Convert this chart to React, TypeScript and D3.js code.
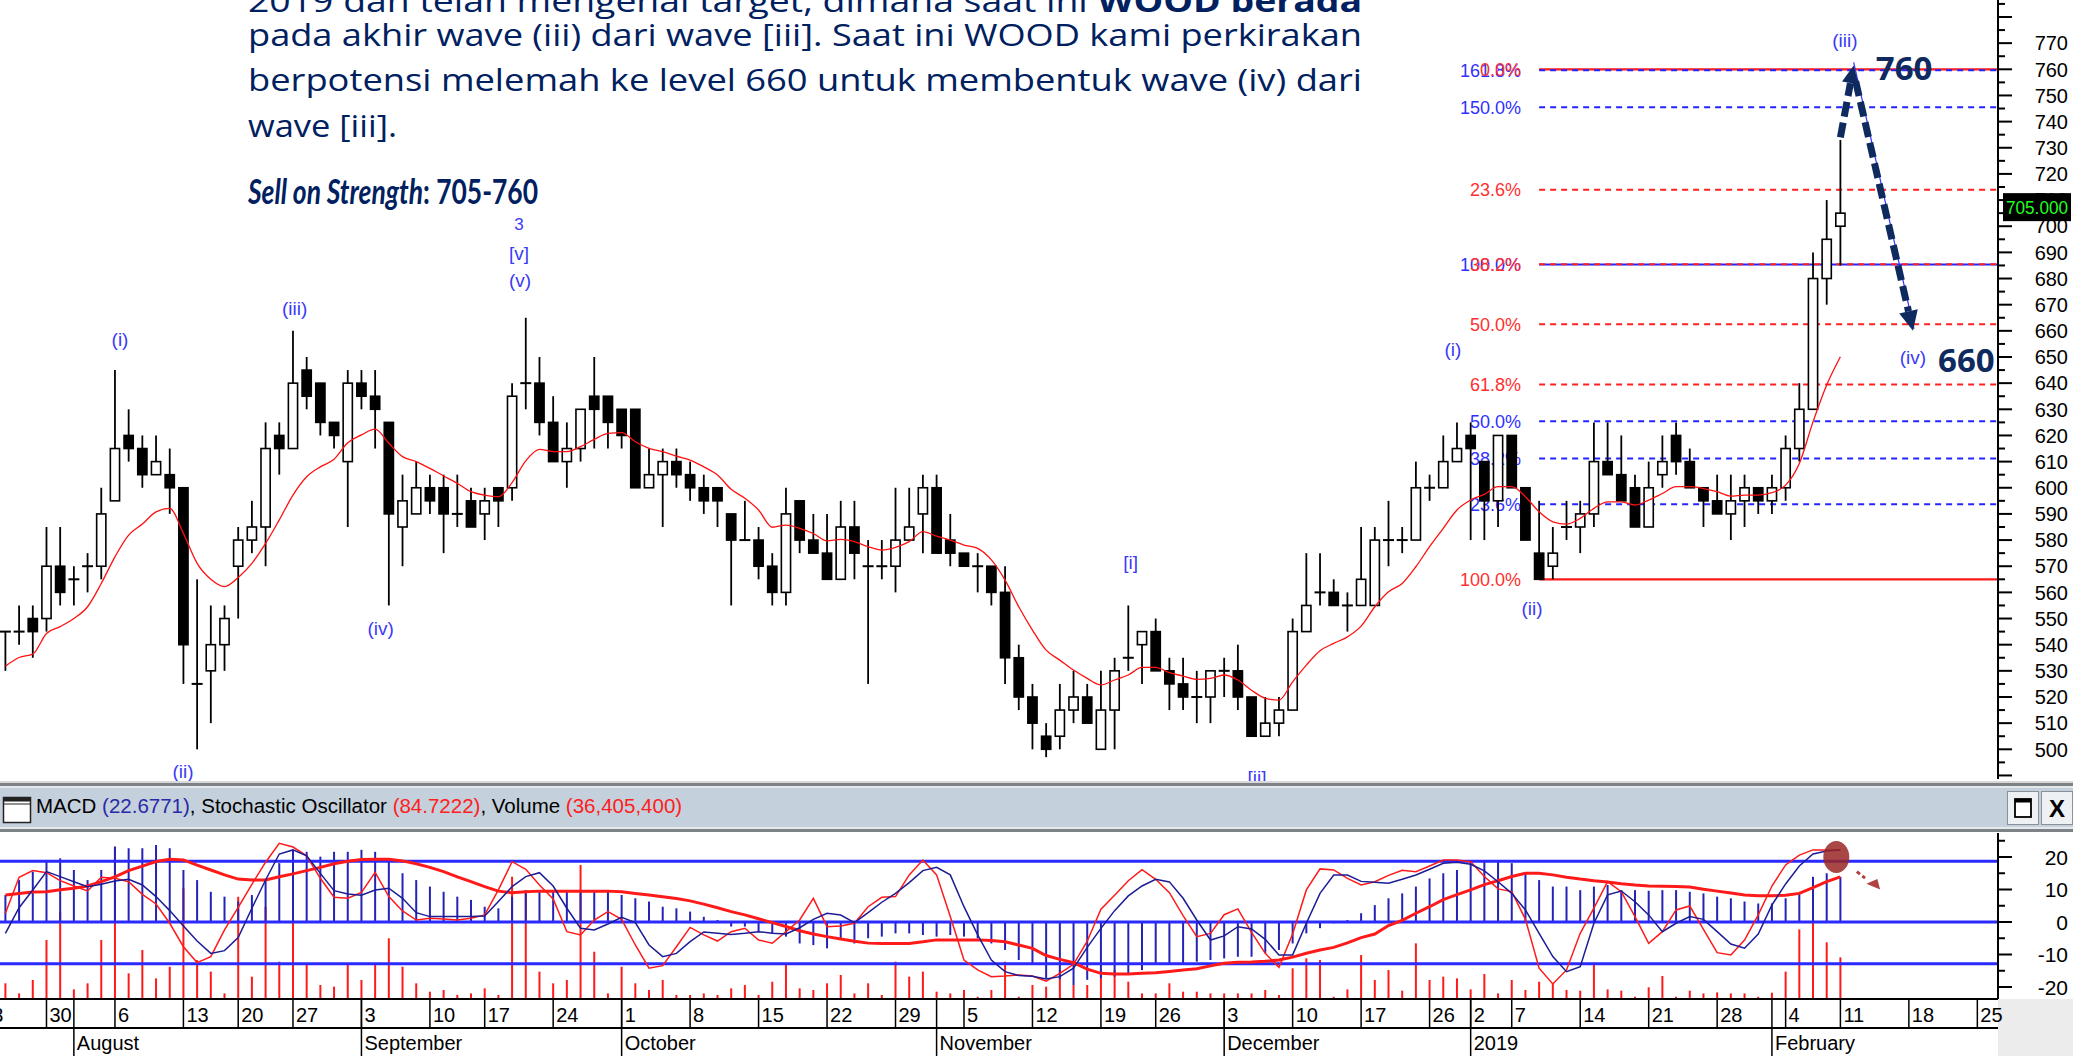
import React from "react";
import * as d3 from "d3";

const W = 2073;
const H = 1056;

// ---------- price data (candles, index = trading day) ----------
const opens = [545,545,550,550,570,565,570,570,595,620,
615,605,605,600,525,530,540,570,580,585,
620,615,645,640,625,610,640,635,625,585,
590,600,600,590,595,590,600,600,640,640,
625,610,615,635,635,630,630,600,605,610,
605,600,600,590,580,580,570,560,595,580,
575,565,585,570,570,570,580,590,600,580,
575,570,570,560,535,520,505,505,515,520,
500,515,535,540,545,530,525,520,520,530,
530,520,505,510,515,545,560,560,555,555,
555,580,580,580,600,600,610,620,610,595,
620,600,575,570,585,585,590,610,605,600,
585,605,620,610,600,595,590,595,600,595,
600,615,630,680,700];
const highs = [545,555,555,585,585,570,575,600,645,630,
620,620,615,600,565,555,555,585,595,625,
625,660,650,640,625,645,645,645,625,605,
610,605,605,605,600,600,600,640,665,650,
635,625,630,650,635,630,630,615,615,615,
610,605,600,590,595,585,575,600,595,590,
590,595,595,580,580,600,600,605,605,590,
575,575,570,570,540,525,510,525,530,525,
530,535,555,545,550,535,535,530,530,535,
540,520,520,520,550,575,575,565,560,585,
585,595,585,610,605,620,625,625,610,620,
620,600,595,585,595,595,625,625,620,605,
610,620,625,615,600,605,605,605,600,605,
620,640,690,710,733];
const lows = [530,540,535,545,555,555,560,565,595,610,
600,605,590,525,500,510,530,550,575,570,
605,615,630,620,615,585,630,615,555,570,
590,590,575,585,585,580,585,595,630,620,
610,600,610,615,615,615,600,600,585,600,
595,590,585,555,580,565,555,555,575,575,
565,565,565,525,565,560,580,575,575,570,
570,560,555,525,515,500,497,500,510,510,
500,500,530,525,530,515,515,510,510,520,
515,505,505,505,515,545,555,555,545,555,
555,570,575,580,595,600,610,580,580,585,
600,580,565,565,580,575,585,605,595,585,
585,600,605,600,585,590,580,585,590,590,
595,610,630,670,685];
const closes = [545,545,545,570,560,565,570,590,615,615,
605,610,600,540,525,540,550,580,585,615,
615,640,635,625,620,640,635,630,590,595,
600,595,590,590,585,595,595,635,640,625,
610,615,630,630,625,620,600,605,610,605,
600,595,595,580,580,570,560,590,580,575,
565,585,575,570,570,580,585,600,575,575,
570,570,560,535,520,510,500,515,520,510,
515,530,535,545,530,525,520,520,530,530,
520,505,510,515,545,555,560,555,555,565,
580,580,580,600,600,610,615,615,595,620,
600,580,565,575,585,590,610,605,595,585,
600,610,610,600,595,590,595,600,595,600,
615,630,680,695,705];
const movingAvg = [531.8,535.1,536.4,544.3,546.9,550,554.5,563.4,573.6,581.9,
586.1,590.8,592.1,582.5,571.1,565,562.2,565.7,571.1,578.7,
587.7,597.2,604.2,608,610.9,617.2,620.2,622.4,617,611.9,
610,607.4,604.5,601.7,598.5,597.2,596.6,602,610.3,614.7,
613.8,613.8,615.7,618.5,620.8,621.1,617.6,615.1,613.8,612.1,
610.6,608,604.9,599.4,596,591.5,584.9,585.7,584.5,582.5,
579.7,580.3,579.4,577.5,576.2,577.2,579.4,583.2,581.5,580,
578.1,576.8,572.4,564.7,554.5,545.6,537.9,534.1,530.3,527.1,
524.6,526.5,528.4,531.3,531.3,529.3,528,526.7,527.1,528.4,
526.5,522.6,519.5,518.8,525.8,532.2,537.7,540.5,543,547.1,
554.5,560.2,563.4,569.8,577.5,584.5,591.5,595.3,597.5,600.4,
600.4,596.6,590.8,587,586.1,588.3,592.1,594.6,594.6,593.4,
595.3,597.8,600.4,600.4,599.7,598.5,596.8,597.2,597.2,598.1,
601,609.3,625.2,639.3,650.1];

// ---------- indicator data ----------
const macdBars = [8.3,12.9,15.5,19.1,19.6,16,12.9,16,23.2,22.7,
22.7,23.7,22.7,16,12.9,9.3,7.8,6.3,8.3,12.9,
18.1,22.2,21.6,20.1,21.6,21.6,22.2,21.6,19.1,15,
12.9,10.9,9.3,7.8,6.8,4.7,4.2,7.8,9.8,9.3,
9.8,9.3,9.3,9.8,9.3,8.3,7.3,6.3,4.7,4.2,
3.2,1.6,0.6,-1.4,-1.4,-3,-3.5,-4.5,-6.6,-7.1,
-8.1,-5.5,-6.6,-5,-4.5,-3.5,-3.5,-4,-4.5,-4,
-4.5,-5,-6.6,-8.6,-11.7,-13.2,-17.3,-17.6,-19.4,-17.8,
-17.3,-16.8,-16.3,-14.8,-13.2,-13.2,-12.7,-12.2,-11.7,-11.2,
-10.7,-10.7,-9.6,-8.6,-6.6,-3.5,-1.9,-0.4,0.6,2.7,
5.2,7.3,8.8,10.9,13.4,15,16,18.6,18.6,18.6,
18.1,15,12.9,10.9,10.9,9.8,10.9,11.4,9.8,9.8,
9.6,9.8,9.8,9.3,8.8,7.8,7.3,6.3,5.7,5.7,
7.3,8.8,13.9,15,13.9];
const macdSignal = [8.3,8.8,9.2,9.3,9.9,10.4,11.1,12.4,13.9,15.8,
17.2,18.6,19.3,19.1,17.5,16,14.5,13.2,12.9,12.9,
13.9,14.8,15.8,16.8,17.9,18.7,19.2,19.3,19.3,18.8,
17.9,16.8,15.5,13.9,12.4,10.9,9.5,9,9.3,9.5,
9.5,9.5,9.5,9.5,9.5,9.3,8.8,8.3,7.8,7.2,
6.5,5.5,4.4,3.2,2.2,1,-0.2,-1.4,-2.7,-3.7,
-4.5,-5.2,-5.9,-6.5,-6.6,-6.6,-6.6,-6.1,-5.5,-5.5,
-5.5,-5.5,-5.7,-6.1,-7.1,-8.1,-10.3,-11.5,-12.5,-14.5,
-15.8,-16,-16,-15.8,-15.6,-15.2,-14.8,-14.4,-13.5,-12.7,
-12.4,-12.3,-12.1,-11.7,-10.8,-9.6,-8.6,-7.8,-6.4,-4.8,
-3.7,-1.1,0.5,2.7,4.7,6.9,8.4,9.9,11.5,12.7,
14,15,15,14.5,13.8,13.2,12.7,12.3,11.8,11.4,
11.1,11,10.9,10.8,10.1,9.5,8.9,8.3,8.1,8.1,
8.2,8.8,10.6,12.4,13.9];
const stochK = [37.8,52.8,63.2,73.9,71,68,65.1,66.5,68.4,69.4,
66.1,59.3,51.1,42.1,33.3,26.1,27.7,35.3,52.5,69,
84.2,86.6,83.1,72.9,62.8,60.8,60.1,63.2,64.2,58.3,
49.9,47.6,47.6,47.6,47.6,48,56.4,65.1,71,73.3,
65.5,52.5,40.8,39.8,43.3,47.2,44.1,31,24.2,26.1,
33,38.6,37.8,37.1,37.8,38.8,37.8,37.4,41.1,46,
49.5,48.5,44.1,49.9,56,61.2,67.5,74.5,76.4,72,
53.4,36.9,22.2,15.4,13.1,12.7,11.1,12.5,17.4,29.6,
40.7,51.1,59.7,65.5,69.4,67.9,58.3,45.6,33.9,36.3,
41.7,40.4,34.3,25.2,25.2,43.7,61.2,71.9,71.9,68.2,
67.7,67.1,69.4,71.9,75.3,78.8,79.4,78.2,74.3,68,
61.2,51.5,37.8,24.2,15.4,18.3,43.7,60.3,62.6,56.3,
48.6,38.8,43.7,47.6,46,38.8,31.6,29.1,37.4,54.4,
66.7,77.2,84.2,86,86.6];
const stochD = [49.5,70.6,74.5,73.3,68.6,65.5,62.6,70.6,70,68,
60.6,55,43.7,30,20.7,24.2,39.8,53,66.5,79.4,
90.5,88.3,83.1,70,58.9,58.3,61.8,73.5,59.3,50.9,
45.6,46.6,46.2,45.6,46.6,48.6,63.2,79.7,75.3,66.1,
57.9,38.8,36.9,45.6,50.5,46,31,17.4,18.9,30,
41.3,36.9,33.3,38.8,40.8,33.9,32,38.8,45.6,58.3,
41.7,42.1,43.7,53.4,58.9,59.3,72,80.7,72,47.6,
22.2,16.4,12.5,12.9,13.5,12.9,9.8,14.4,19.7,33.2,
51.9,60.1,68.6,75.1,69.4,61.6,48.2,35.9,37.8,48.7,
52.1,38.4,26.1,17.9,37.4,63.2,75.5,74.9,70,66.1,
68,71.7,74.7,73.9,77.2,80.7,80.7,79.7,71,63.8,
62.2,46,17.4,8.2,16.4,37.8,52.5,68,62.2,47.6,
32,38.8,51.5,53.8,40.2,26.5,25.2,33.9,48.6,65.5,
77.8,83.6,86.6,86.6,86.6];
const volumeM = [13.7,4.9,16.6,51.5,76.2,8.4,13.7,51.5,133,22.4,
42.8,18,28.2,96.6,34,23.9,4.9,89.3,19.5,80.6,
32.6,80.6,29.7,12.2,10.8,29.7,16.6,29.7,53,28.2,
13.7,6.4,7.9,3.5,4.9,9.3,3.5,106.8,92.2,23.9,
13.7,16.6,117,41.3,4.9,28.2,13.7,7.9,16.6,3.5,
3.5,4.9,3.5,9.3,12.2,3.5,15.1,29.7,9.3,7.9,
13.7,21,4.9,13.7,3.5,32.6,19.5,23.9,6.4,4.9,
7.9,2,7.9,32.6,2,12.2,10.8,25.3,12.2,12.2,
25.3,25.3,15.1,4.9,4.9,13.7,6.4,6.4,4.9,4.9,
4.9,4.9,7.9,3.5,26.8,35.5,34,2,8.4,38.4,
16.6,25.3,7.3,48.6,16.6,19.5,18,8.4,21.8,4.9,
16.6,7.9,15.1,13.7,7.9,7.3,31.7,8.4,7.3,2,
10.2,20.1,2,7.3,4.9,5.8,4.9,4.9,2,5.5,
23.9,60.8,98,49.5,36.4];

// ---------- axis labels ----------
const priceTickValues = d3.range(490, 790, 5);
const priceLabelValues = d3.range(500, 771, 10);
const macdTickValues = d3.range(-25, 26, 5);
const macdLabelValues = [20, 10, 0, -10, -20];
const weekTicks = [
  { i: -2, l: "23" }, { i: 3, l: "30" }, { i: 8, l: "6" }, { i: 13, l: "13" }, { i: 17, l: "20" },
  { i: 21, l: "27" }, { i: 26, l: "3" }, { i: 31, l: "10" }, { i: 35, l: "17" }, { i: 40, l: "24" },
  { i: 45, l: "1" }, { i: 50, l: "8" }, { i: 55, l: "15" }, { i: 60, l: "22" }, { i: 65, l: "29" },
  { i: 70, l: "5" }, { i: 75, l: "12" }, { i: 80, l: "19" }, { i: 84, l: "26" }, { i: 89, l: "3" },
  { i: 94, l: "10" }, { i: 99, l: "17" }, { i: 104, l: "26" }, { i: 107, l: "2" }, { i: 110, l: "7" },
  { i: 115, l: "14" }, { i: 120, l: "21" }, { i: 125, l: "28" }, { i: 130, l: "4" }, { i: 134, l: "11" },
  { i: 139, l: "18" }, { i: 144, l: "25" },
];
const monthTicks = [
  { i: 5, l: "August" }, { i: 26, l: "September" }, { i: 45, l: "October" }, { i: 68, l: "November" },
  { i: 89, l: "December" }, { i: 107, l: "2019" }, { i: 129, l: "February" },
];

// Fibonacci levels
const fibRed = [
  { p: 760, l: "0.0%", solid: true }, { p: 713.9, l: "23.6%", solid: false },
  { p: 685.5, l: "38.2%", solid: false }, { p: 662.5, l: "50.0%", solid: false },
  { p: 639.5, l: "61.8%", solid: false }, { p: 565, l: "100.0%", solid: true },
];
const fibBlue = [
  { p: 759.6, l: "161.8%", solid: false }, { p: 745.5, l: "150.0%", solid: false },
  { p: 685.4, l: "100.0%", solid: true }, { p: 625.4, l: "50.0%", solid: false },
  { p: 611.2, l: "38.2%", solid: false }, { p: 593.7, l: "23.6%", solid: false },
];
const fibStartIdx = 112;

// wave annotations (index, price)
const waveLabels = [
  { t: "(i)", i: 8.37, p: 656.9 }, { t: "(ii)", i: 12.97, p: 491.7 },
  { t: "(iii)", i: 21.12, p: 668.5 }, { t: "(iv)", i: 27.41, p: 546.3 },
  { t: "[v]", i: 37.5, p: 689.7 }, { t: "(v)", i: 37.58, p: 679.4 },
  { t: "[i]", i: 82.17, p: 571.7 }, { t: "[ii]", i: 91.4, p: 489.4 },
  { t: "(i)", i: 105.71, p: 653.0 }, { t: "(ii)", i: 111.48, p: 554.0 },
  { t: "(iii)", i: 134.33, p: 771.2 }, { t: "(iv)", i: 139.3, p: 650.0 },
];

// ---------- scales ----------
const xS = d3.scaleLinear().domain([0, 134]).range([5.4, 1840.4]);
const yP = d3.scaleLinear().domain([500, 760]).range([749.3, 69.3]);
const yM = d3.scaleLinear().domain([-20, 20]).range([987, 857]);
const yS = d3.scaleLinear().domain([0, 100]).range([998, 827]);
const yV = d3.scaleLinear().domain([0, 100]).range([999, 884.5]);

const AXIS_X = 1998;
const NAVY = "#0f2a5e";
const TEXT_NAVY = "#002060";
const WAVE_BLUE = "#3a3af5";
const FONT = "Liberation Sans, Arial, sans-serif";

function arrowParts(x1: number, y1: number, x2: number, y2: number, hl: number, hw: number) {
  const dx = x2 - x1, dy = y2 - y1;
  const len = Math.hypot(dx, dy);
  const ux = dx / len, uy = dy / len;
  const bx = x2 - ux * hl, by = y2 - uy * hl;
  const px = -uy, py = ux;
  const tri = `${x2},${y2} ${bx + px * hw / 2},${by + py * hw / 2} ${bx - px * hw / 2},${by - py * hw / 2}`;
  return { bx, by, tri };
}

export default function App() {
  const idx = d3.range(closes.length);
  const maLine = d3.line<number>().x((i) => xS(i)).y((i) => yP(movingAvg[i])).curve(d3.curveMonotoneX);
  const sigLine = d3.line<number>().x((i) => xS(i)).y((i) => yM(macdSignal[i]));
  const kLine = d3.line<number>().x((i) => xS(i)).y((i) => yS(stochK[i]));
  const dLine = d3.line<number>().x((i) => xS(i)).y((i) => yS(stochD[i]));

  const fibX1 = xS(fibStartIdx);

  const aStart = { x: xS(134), y: yP(734) };
  const aPeak = { x: xS(134.97), y: yP(761.5) };
  const aEnd = { x: xS(139.3), y: yP(660) };
  const up = arrowParts(aStart.x, aStart.y, aPeak.x, aPeak.y, 18, 17);
  const downFrom = { x: aPeak.x + 2, y: aPeak.y + 16 };
  const down = arrowParts(downFrom.x, downFrom.y, aEnd.x, aEnd.y, 20, 19);

  const lastIdx = closes.length - 1;
  const lastY = yP(closes[lastIdx]);

  return (
    <svg width={W} height={H} style={{ position: "absolute", left: 0, top: 0, background: "#fff" }} fontFamily={FONT}>
      <defs>
        <clipPath id="mainClip"><rect x={0} y={0} width={AXIS_X} height={781} /></clipPath>
        <clipPath id="indClip"><rect x={0} y={832} width={AXIS_X} height={167} /></clipPath>
      </defs>
      <rect x={0} y={0} width={W} height={H} fill="#fff" />

      {/* ================= MAIN PRICE PANEL ================= */}
      <g clipPath="url(#mainClip)">
        {fibBlue.filter((f) => f.solid).map((f, k) => (
          <line key={"bs" + k} x1={fibX1} x2={AXIS_X} y1={yP(f.p)} y2={yP(f.p)} stroke="#2424ff" strokeWidth={2} />
        ))}
        {fibRed.filter((f) => f.solid).map((f, k) => (
          <line key={"rs" + k} x1={fibX1} x2={AXIS_X} y1={yP(f.p)} y2={yP(f.p)} stroke="#ff1a1a" strokeWidth={2.2} />
        ))}
        {fibRed.filter((f) => !f.solid).map((f, k) => (
          <line key={"rd" + k} x1={fibX1} x2={AXIS_X} y1={yP(f.p)} y2={yP(f.p)} stroke="#ff2020" strokeWidth={2} strokeDasharray="6,5" />
        ))}
        {fibBlue.filter((f) => !f.solid).map((f, k) => (
          <line key={"bd" + k} x1={fibX1} x2={AXIS_X} y1={yP(f.p)} y2={yP(f.p)} stroke="#2424ff" strokeWidth={2} strokeDasharray="6,5" />
        ))}
        {fibBlue.map((f, k) => (
          <text key={"bl" + k} x={1521} y={yP(f.p)} dy="0.36em" textAnchor="end" fontSize={18} fill="#3030ff">{f.l}</text>
        ))}
        {fibRed.map((f, k) => (
          <text key={"rl" + k} x={1521} y={yP(f.p)} dy="0.36em" textAnchor="end" fontSize={18} fill="#ff3030">{f.l}</text>
        ))}

        {/* candles */}
        {idx.map((i) => {
          const x = xS(i);
          const o = opens[i], c = closes[i];
          const doji = o === c;
          const upC = c > o;
          return (
            <g key={"c" + i}>
              <line x1={x} x2={x} y1={yP(highs[i])} y2={yP(lows[i])} stroke="#000" strokeWidth={1.8} />
              {doji ? (
                <line x1={x - 5.5} x2={x + 5.5} y1={yP(o)} y2={yP(o)} stroke="#000" strokeWidth={2} />
              ) : (
                <rect x={x - 4.6} width={9.2} y={yP(Math.max(o, c))} height={Math.abs(yP(o) - yP(c))}
                  fill={upC ? "#fff" : "#000"} stroke="#000" strokeWidth={1.6} />
              )}
            </g>
          );
        })}

        <path d={maLine(idx) || ""} fill="none" stroke="#ff1010" strokeWidth={1.3} />

        {waveLabels.map((w, k) => (
          <text key={"w" + k} x={xS(w.i)} y={yP(w.p)} dy="0.36em" textAnchor="middle" fontSize={19} fill={WAVE_BLUE}>{w.t}</text>
        ))}
        <text x={xS(37.5)} y={yP(700.8)} dy="0.36em" textAnchor="middle" fontSize={17} fill={WAVE_BLUE}>3</text>

        <line x1={aPeak.x} y1={aPeak.y - 3} x2={aEnd.x + 1} y2={aEnd.y - 2} stroke="#3333ff" strokeWidth={1.2} />
        <line x1={aStart.x} y1={aStart.y} x2={up.bx} y2={up.by} stroke={NAVY} strokeWidth={7} strokeDasharray="15,6" />
        <polygon points={up.tri} fill={NAVY} />
        <line x1={downFrom.x} y1={downFrom.y} x2={down.bx} y2={down.by} stroke={NAVY} strokeWidth={7} strokeDasharray="15,6" />
        <polygon points={down.tri} fill={NAVY} />
        <text x={xS(138.65)} y={yP(760.5)} dy="0.36em" textAnchor="middle" fontSize={33} fontWeight="bold" fill={NAVY} fontFamily="Open Sans, sans-serif">760</text>
        <text x={xS(143.2)} y={yP(648.9)} dy="0.36em" textAnchor="middle" fontSize={33} fontWeight="bold" fill={NAVY} fontFamily="Open Sans, sans-serif">660</text>
      </g>

      {/* price axis */}
      <line x1={AXIS_X} x2={AXIS_X} y1={0} y2={779} stroke="#000" strokeWidth={2} />
      {priceTickValues.map((p) => {
        const y = yP(p);
        if (y < 1 || y > 778) return null;
        const major = p % 10 === 0;
        return <line key={"pt" + p} x1={AXIS_X} x2={AXIS_X + (major ? 14 : 7)} y1={y} y2={y} stroke="#000" strokeWidth={2} />;
      })}
      {priceLabelValues.map((p) => (
        <text key={"pl" + p} x={2068} y={yP(p)} dy="0.36em" textAnchor="end" fontSize={20} fill="#000">{p}</text>
      ))}
      <rect x={2003} y={lastY - 20} width={68} height={28} fill="#000" />
      <text x={2037} y={lastY - 6} dy="0.36em" textAnchor="middle" fontSize={18} fill="#22ff22" textLength={62} lengthAdjust="spacingAndGlyphs">{closes[lastIdx].toFixed(3)}</text>

      {/* ================= PARAGRAPH TEXT ================= */}
      <g fontFamily="Open Sans, Noto Sans, sans-serif" fill={TEXT_NAVY}>
        <text x={248} y={12} fontSize={31} textLength={1114} lengthAdjust="spacingAndGlyphs">
          2019 dan telah mengenai target, dimana saat ini <tspan fontWeight="bold">WOOD berada</tspan>
        </text>
        <text x={248} y={46} fontSize={31} textLength={1114} lengthAdjust="spacingAndGlyphs">
          pada akhir wave (iii) dari wave [iii]. Saat ini WOOD kami perkirakan
        </text>
        <text x={248} y={91} fontSize={31} textLength={1114} lengthAdjust="spacingAndGlyphs">
          berpotensi melemah ke level 660 untuk membentuk wave (iv) dari
        </text>
        <text x={248} y={136.5} fontSize={31} textLength={149} lengthAdjust="spacingAndGlyphs">wave [iii].</text>
        <text x={248} y={204} fontSize={34} fontWeight="bold" fontFamily="Lato, Open Sans, sans-serif" textLength={290} lengthAdjust="spacingAndGlyphs">
          <tspan fontStyle="italic">Sell on Strength</tspan>: 705-760
        </text>
      </g>

      {/* ================= SEPARATOR / HEADER ================= */}
      <rect x={0} y={781} width={W} height={2} fill="#d8d8d8" />
      <rect x={0} y={783} width={W} height={3} fill="#7d8287" />
      <rect x={0} y={786} width={W} height={2} fill="#e6e9ec" />
      <rect x={0} y={788} width={W} height={39} fill="#c4d0dc" />
      <rect x={0} y={827} width={W} height={2} fill="#e6e9ec" />
      <rect x={0} y={829} width={W} height={3} fill="#7d8287" />
      <rect x={3.5} y={797.5} width={27} height={25} fill="#fff" stroke="#222" strokeWidth={1.5} />
      <rect x={3.5} y={797.5} width={27} height={4} fill="#222" />
      <line x1={3.5} x2={30.5} y1={804} y2={804} stroke="#222" strokeWidth={1} />
      <text x={36} y={813} fontSize={20.5} fill="#000">
        MACD <tspan fill="#2a2aa8">(22.6771)</tspan>, Stochastic Oscillator <tspan fill="#ff2020">(84.7222)</tspan>, Volume <tspan fill="#ff2020">(36,405,400)</tspan>
      </text>
      <rect x={2007.5} y={791.5} width={31} height={33} fill="#eef1f4" stroke="#8a9096" strokeWidth={1} />
      <rect x={2015} y={799} width={16} height={18} fill="#fff" stroke="#000" strokeWidth={1.8} />
      <rect x={2015} y={799} width={16} height={3.5} fill="#000" />
      <rect x={2041.5} y={791.5} width={31} height={33} fill="#eef1f4" stroke="#8a9096" strokeWidth={1} />
      <text x={2057} y={808} dy="0.36em" textAnchor="middle" fontSize={24} fontWeight="bold" fill="#000">X</text>

      {/* ================= INDICATOR PANEL ================= */}
      <g clipPath="url(#indClip)">
        {idx.map((i) => (
          <line key={"v" + i} x1={xS(i)} x2={xS(i)} y1={yV(0)} y2={yV(volumeM[i])} stroke="#ff1a1a" strokeWidth={2} />
        ))}
        {idx.map((i) => (
          <line key={"m" + i} x1={xS(i)} x2={xS(i)} y1={yM(0)} y2={yM(macdBars[i])} stroke="#2323b8" strokeWidth={2} />
        ))}
        <line x1={0} x2={AXIS_X} y1={yS(80)} y2={yS(80)} stroke="#2a2aff" strokeWidth={3} />
        <line x1={0} x2={AXIS_X} y1={yM(0)} y2={yM(0)} stroke="#2a2aff" strokeWidth={3} />
        <line x1={0} x2={AXIS_X} y1={yS(20)} y2={yS(20)} stroke="#2a2aff" strokeWidth={3} />
        <path d={sigLine(idx) || ""} fill="none" stroke="#ff1a1a" strokeWidth={3} />
        <path d={dLine(idx) || ""} fill="none" stroke="#ff1a1a" strokeWidth={1.5} />
        <path d={kLine(idx) || ""} fill="none" stroke="#1c1c95" strokeWidth={1.5} />
        <ellipse cx={xS(133.7)} cy={yM(20)} rx={13} ry={16} fill="#9a2626" opacity={0.85} />
        <line x1={xS(135.2)} y1={yM(15.5)} x2={xS(135.8)} y2={yM(13.5)} stroke="#b24141" strokeWidth={3} strokeDasharray="4,3" />
        <polygon points={`${xS(136.9)},${yM(10)} ${xS(135.9)},${yM(11.8)} ${xS(136.7)},${yM(13.2)}`} fill="#b24141" />
      </g>
      <line x1={AXIS_X} x2={AXIS_X} y1={833} y2={999} stroke="#000" strokeWidth={2} />
      {macdTickValues.map((v) => {
        const y = yM(v);
        if (y < 834 || y > 998) return null;
        const major = v % 10 === 0;
        return <line key={"mt" + v} x1={AXIS_X} x2={AXIS_X + (major ? 14 : 7)} y1={y} y2={y} stroke="#000" strokeWidth={2} />;
      })}
      {macdLabelValues.map((v) => (
        <text key={"ml" + v} x={2068} y={yM(v)} dy="0.36em" textAnchor="end" fontSize={21} fill="#000">{v}</text>
      ))}

      {/* ================= DATE AXIS ================= */}
      <rect x={AXIS_X} y={999} width={W - AXIS_X} height={H - 999} fill="#ececec" />
      <line x1={0} x2={AXIS_X} y1={999} y2={999} stroke="#000" strokeWidth={2} />
      <line x1={0} x2={AXIS_X} y1={1028} y2={1028} stroke="#000" strokeWidth={2} />
      {weekTicks.map((t, k) => {
        const x = xS(t.i);
        return (
          <g key={"wt" + k}>
            <line x1={x} x2={x} y1={999} y2={1028} stroke="#000" strokeWidth={1.5} />
            <text x={x + 3} y={1022} fontSize={20} fill="#000">{t.l}</text>
          </g>
        );
      })}
      {monthTicks.map((t, k) => {
        const x = xS(t.i);
        return (
          <g key={"mo" + k}>
            <line x1={x} x2={x} y1={999} y2={1056} stroke="#000" strokeWidth={1.5} />
            <text x={x + 3} y={1050} fontSize={20} fill="#000">{t.l}</text>
          </g>
        );
      })}
    </svg>
  );
}
